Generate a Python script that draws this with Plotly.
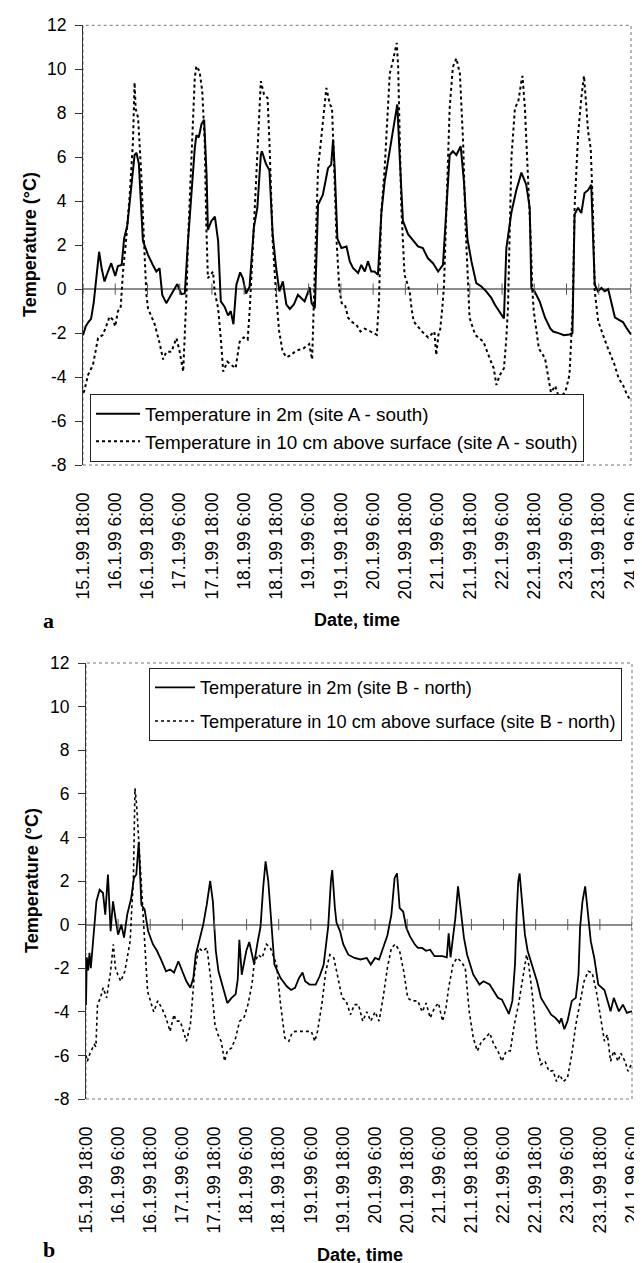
import plotly.graph_objects as go
import pandas as pd

# ---------------- data (hours after 15.1.99 18:00, temperature °C) ----------------
tick_labels = ["15.1.99 18:00", "16.1.99 6:00", "16.1.99 18:00", "17.1.99 6:00",
               "17.1.99 18:00", "18.1.99 6:00", "18.1.99 18:00", "19.1.99 6:00",
               "19.1.99 18:00", "20.1.99 6:00", "20.1.99 18:00", "21.1.99 6:00",
               "21.1.99 18:00", "22.1.99 6:00", "22.1.99 18:00", "23.1.99 6:00",
               "23.1.99 18:00", "24.1.99 6:00"]
y_ticks = [-8, -6, -4, -2, 0, 2, 4, 6, 8, 10, 12]

# site A - south, 2 m
hA_2m = [0, 1, 2, 3, 4, 5, 6, 7, 8, 9, 10.5, 12, 13, 14.4, 15.3, 16.5, 17.4, 18.2, 19.2, 19.9,
         20.8, 22.3, 24.2, 26, 27.3, 28.5, 29.5, 31, 33.5, 35.1, 36.6, 37.9, 39.1, 40.3, 41.6,
         42.2, 43.1, 44.1, 45.1, 46, 46.5, 47.8, 49.1, 50.3, 51.3, 52.7, 54, 55, 56, 57.1, 58.5,
         59.5, 60.7, 62, 63.6, 64.9, 66.2, 66.6, 68.1, 69.4, 70.6, 71.9, 73.1, 74.4, 75.7, 77,
         78.5, 80, 82.5, 84.4, 85.1, 86.3, 87.5, 89.3, 91.2, 92.4, 93.1, 93.7, 94.7, 96.2, 98.1,
         99.3, 100.5, 102.4, 103.6, 104.9, 106.1, 107.3, 108.5, 109.8, 111.1, 112.3, 113.5,
         114.8, 116, 117, 117.9, 119.1, 121, 122.8, 124.7, 126.5, 128.4, 130.3, 132.2, 134,
         135.3, 136.5, 137.7, 139, 140.6, 141.8, 143.1, 144.6, 146.4, 148.3, 150.1, 152, 153.3,
         155, 156.7, 157.6, 159.5, 161.3, 163.2, 165, 166.3, 166.9, 168.1, 170, 172, 174, 175,
         177, 179, 181.1, 182.2, 183, 184.3, 185.5, 186.7, 188, 189.2, 190.5, 191.7, 193, 194.2,
         195.5, 196.7, 198, 199.5, 201, 202.5, 204]
tA_2m = [-2.1, -1.7, -1.5, -1.35, -0.6, 0.7, 1.7, 0.9, 0.35, 0.7, 1.18, 0.6, 1.05, 1.1, 2.3, 2.9,
         4.0, 4.75, 6.1, 6.2, 5.7, 2.2, 1.56, 1.1, 0.8, 0.95, -0.26, -0.64, -0.1, 0.23, -0.23,
         -0.2, 2.2, 4.3, 6.4, 7.0, 6.9, 7.5, 7.7, 5.2, 2.7, 3.1, 3.3, 2.2, -0.56, -0.8, -1.2,
         -1.0, -1.6, 0.2, 0.76, 0.5, -0.2, 0.1, 2.8, 3.7, 6.1, 6.27, 5.7, 5.4, 2.5, 0.96, -0.1,
         0.35, -0.7, -0.9, -0.7, -0.26, -0.56, 0.08, -0.64, -0.87, 3.84, 4.3, 5.5, 5.66, 6.8,
         5.5, 2.3, 1.87, 1.94, 1.26, 0.96, 0.73, 1.1, 0.8, 1.26, 0.8, 0.8, 0.65, 3.5, 4.9, 5.8,
         6.7, 7.6, 8.4, 6.0, 3.1, 2.5, 2.25, 1.94, 1.87, 1.4, 1.18, 0.8, 1.1, 3.7, 6.1, 6.27,
         6.1, 6.5, 4.9, 2.3, 1.26, 0.27, 0.12, -0.1, -0.4, -0.7, -1.0, -1.34, 1.87, 3.5, 4.5,
         5.3, 4.75, 3.7, 0.05, -0.1, -0.56, -1.3, -1.8, -1.93, -2.0, -2.1, -2.06, -2.0, 3.4,
         3.7, 3.46, 4.37, 4.5, 4.75, 0.2, -0.1, 0.05, -0.1, 0.0, -0.56, -1.28, -1.4, -1.5, -1.8,
         -2.06]

# site A - south, 10 cm above surface
hA_10 = [0, 0.4, 1.9, 3.7, 5.6, 7.4, 8.6, 9.9, 11.2, 12, 13, 14, 14.9, 16.1, 17.4, 18.6, 19.2,
         19.6, 20.5, 21.7, 22.7, 23.6, 24.2, 26.7, 28.6, 29.8, 31, 32.9, 34.8, 36, 37.3, 37.9,
         38.6, 39.1, 40.1, 41, 41.6, 42.2, 43.4, 44.4, 45.3, 45.9, 46.5, 47.5, 48.4, 49, 50.3,
         51.4, 52.2, 53.7, 55.2, 56.8, 58.3, 59.8, 61.3, 62.1, 63.6, 64.3, 65.3, 66.2, 67.4,
         68.7, 69.4, 70.6, 71.9, 73, 74.3, 75.8, 77.4, 78.9, 80.4, 82, 84.2, 85.3, 86.2, 87.5,
         88.8, 90, 90.6, 91.9, 92.7, 93.5, 94.4, 95.4, 96.3, 97.5, 98.7, 100.2, 101.8, 103.3,
         104.8, 107.1, 109.4, 110.2, 111, 112.3, 113.5, 114.2, 115.4, 116.4, 116.8, 117.3, 117.9,
         118.5, 119.7, 120.8, 121.6, 122.3, 123.1, 126.2, 128.5, 130.8, 131.5, 132.3, 133, 133.8,
         134.4, 135.3, 136.5, 137.7, 139, 140.3, 141.5, 142.4, 143.4, 143.9, 146, 149.1, 151.4,
         152.9, 153.9, 155.2, 156.7, 157.5, 158.2, 158.8, 159.5, 160.8, 162, 163.2, 163.6, 164.5,
         165.7, 166.7, 167.3, 167.8, 169.7, 172, 174.2, 175.8, 177.3, 179.6, 181.1, 182.3, 183,
         184.3, 185.5, 186.5, 187.4, 188, 189, 189.8, 190.5, 191.8, 194.8, 197.9, 199.4, 201,
         202.5, 204]
tA_10 = [-4.7, -4.66, -3.9, -3.45, -2.23, -2.08, -1.7, -1.25, -1.4, -1.7, -1.0, -0.87, 0.8, 2.3,
         4.3, 6.7, 9.4, 8.2, 7.8, 5.2, 2.2, -0.26, -0.87, -1.6, -2.5, -3.2, -2.85, -2.85, -2.23,
         -2.85, -3.75, -2.2, 0, 2.2, 5.5, 8.2, 9.6, 10.14, 9.9, 9.0, 6.7, 2.9, 0.5, 0.65, 0.8,
         -0.1, -0.87, -2.4, -3.75, -3.3, -3.45, -3.6, -2.4, -2.2, -2.3, -0.87, 2.8, 4.45, 6.7,
         9.46, 8.85, 8.7, 6.7, 2.2, -0.26, -1.9, -2.84, -3.1, -3.0, -2.84, -2.76, -2.7, -2.5,
         -3.2, 0.5, 5.5, 7.0, 8.55, 9.15, 8.4, 8.25, 5.5, 2.2, 0.05, -0.64, -0.7, -1.3, -1.5,
         -1.63, -1.93, -1.8, -1.93, -2.08, -0.5, 3.4, 5.5, 8.55, 9.8, 10.4, 11.1, 11.2, 10.2, 7.5,
         3.7, 0.65, 0.2, -0.1, -0.87, -1.47, -1.93, -2.2, -1.93, -3.0, -2.08, -1.8, -0.8, 0.2, 3.7,
         8.25, 10.1, 10.5, 9.8, 6.7, 2.9, 0.05, -1.3, -2.08, -2.4, -3.15, -3.6, -4.36, -3.9, -3.6,
         -2.4, -0.87, 3.0, 6.0, 8.25, 8.5, 9.46, 9.7, 8.25, 5.2, 2.2, -0.1, -1.0, -2.7, -3.15,
         -4.7, -4.4, -5.0, -4.66, -3.9, -0.87, 3.7, 7.0, 8.7, 9.7, 8.25, 7.2, 6.4, 3.7, -0.1,
         -1.47, -2.5, -3.45, -4.06, -4.36, -4.8, -5.1]

# site B - north, 2 m
hB_2m = [0, 0.3, 0.8, 1.3, 1.8, 2.3, 3.1, 3.9, 5.1, 6.35, 7.2, 8.2, 9.2, 10.1, 11, 12, 13.2, 14.2,
         15.4, 16.9, 17.9, 18.8, 19.7, 20.7, 21.9, 23.2, 25, 26.5, 28, 29.9, 31.4, 32.9, 34.5, 36,
         37.5, 39, 40.1, 41, 42.5, 43.8, 45.1, 46.4, 47.4, 47.9, 48.5, 49.5, 50.5, 51.5, 52.8,
         54.4, 55.9, 56.7, 57.3, 58.2, 59.9, 61, 62, 62.8, 64, 65.2, 66.2, 67.1, 68.1, 69, 69.6,
         70.4, 72.7, 75, 76.6, 78.1, 79.6, 80.9, 81.9, 83.5, 85.8, 87.3, 88.8, 90.5, 91.5, 92, 93,
         93.6, 94.9, 96.1, 98, 100.3, 102.6, 104.9, 106.4, 108, 109.5, 111, 112.6, 114.1, 115.3,
         116.2, 117.2, 118.5, 119.7, 121, 122.8, 124, 125.6, 127, 128.6, 130.2, 131.5, 133.2,
         134.8, 135.5, 136.2, 138, 139, 140.3, 141.2, 142.4, 144.7, 147, 148.5, 150.8, 152.4,
         153.9, 155.4, 157, 158, 159.3, 160.3, 160.9, 161.5, 162, 163, 164, 165, 166.2, 168.5,
         170, 172.3, 173.8, 175.4, 176.9, 177.6, 178.7, 179.9, 181.5, 183, 184, 184.6, 185.5,
         186.5, 187.4, 188.6, 189.9, 191.4, 193.7, 195.2, 196, 197.2, 199.1, 200.6, 202.1, 203.7,
         204]
tB_2m = [-3.7, -1.5, -2.1, -1.3, -2.0, -1.2, 0.15, 1.07, 1.6, 1.45, 0.46, 2.3, -0.3, 1.07, 0.3,
         -0.46, 0, -0.6, 0.46, 1.22, 2.14, 2.3, 3.8, 0.9, 0.7, -0.3, -0.9, -1.2, -1.6, -2.14,
         -2.06, -2.2, -1.68, -2.14, -2.6, -2.9, -2.45, -1.38, -0.6, 0, 0.9, 2.0, 1.07, 0, -1.2,
         -2.14, -2.6, -3.06, -3.6, -3.36, -3.2, -2.5, -0.7, -2.3, -1.2, -0.8, -1.3, -1.8, -0.9,
         -0.1, 1.7, 2.9, 2.0, 0.46, -0.6, -1.83, -2.45, -2.83, -3.0, -2.9, -2.45, -2.2, -2.6,
         -2.75, -2.75, -2.37, -1.83, -0.08, 2.0, 2.5, 0.76, 0.08, -0.3, -0.9, -1.38, -1.53, -1.6,
         -1.53, -1.83, -1.53, -1.6, -1.07, -0.5, 0.46, 2.14, 2.35, 0.76, 0.6, -0.15, -0.53, -0.9,
         -1.07, -1.07, -1.2, -1.15, -1.45, -1.45, -1.45, -1.5, -0.4, -1.5, 0.3, 1.75, 0.46, -0.6,
         -1.38, -2.3, -2.75, -2.6, -2.75, -3.1, -3.36, -3.44, -3.82, -4.1, -3.5, -1.8, 0.46, 2.0,
         2.35, 1.07, -0.46, -1.2, -1.68, -2.6, -3.36, -3.82, -4.13, -4.28, -4.5, -4.3, -4.8,
         -4.43, -3.5, -3.36, -2.3, -0.15, 1.07, 1.75, 0.6, -0.76, -1.53, -2.75, -3.0, -3.67,
         -3.98, -3.36, -3.98, -3.67, -4.05, -3.98, -4.0]

# site B - north, 10 cm above surface
hB_10 = [0, 0.5, 1.5, 3.1, 3.7, 4.3, 5.4, 6.4, 7.7, 9.2, 10.2, 11, 11.9, 13, 14.5, 15.6, 16.5,
         17.1, 17.7, 18.3, 18.9, 19.6, 20.6, 21.4, 22, 23, 25.3, 26.8, 28.3, 29.9, 31.4, 32.9,
         33.7, 35.2, 36.4, 37.5, 39, 40.6, 42.1, 43.6, 45.2, 46.7, 48.2, 49.3, 50.5, 51.8, 52.8,
         54.4, 55.9, 57.4, 59, 60.5, 62, 62.8, 64.3, 65.8, 67.4, 68.9, 71.2, 72.7, 74.3, 75.8,
         77, 78.1, 84.2, 85.5, 86.5, 88.1, 89.6, 91.1, 92.6, 94.2, 95.7, 97.2, 98.8, 100.3, 101.8,
         103.4, 104.9, 106.4, 108, 109.5, 111, 112.6, 114.1, 115.6, 117.2, 118.7, 120.2, 121.7,
         124, 125.6, 127.1, 128.6, 130.2, 131.7, 133.2, 134.5, 135.5, 137.1, 138.6, 140.1, 141.7,
         143.2, 144.7, 146.2, 147.8, 149.3, 150.8, 152.4, 153.9, 155.4, 157, 158.5, 160, 161.6,
         163.1, 164.6, 165.4, 166.9, 168.5, 170, 171.5, 173, 174.5, 175.8, 176.9, 178.4, 179.9,
         181.5, 183, 184.5, 186.1, 187.6, 189.1, 190.7, 192.2, 193.7, 194.8, 196, 197.2, 198.8,
         199.8, 201.4, 202.5, 203.7]
tB_10 = [-6.0, -6.27, -5.9, -5.5, -5.6, -3.67, -3.36, -2.9, -3.36, -2.14, -0.9, -2.0, -2.3, -2.6,
         -2.14, -1.38, -0.76, 0.76, 2.0, 6.25, 5.5, 4.1, 2.0, 0.15, -1.07, -3.06, -4.0, -3.5,
         -3.82, -4.28, -4.9, -4.13, -4.43, -4.43, -4.9, -5.35, -4.6, -2.14, -1.07, -1.22, -1.07,
         -2.6, -4.6, -5.05, -5.35, -6.27, -5.8, -5.66, -5.2, -4.43, -4.28, -3.67, -2.75, -1.83,
         -1.38, -1.53, -0.9, -1.07, -1.83, -3.67, -5.2, -5.35, -4.97, -4.9, -4.9, -5.35, -4.9,
         -3.67, -2.14, -1.38, -1.53, -2.45, -3.36, -3.5, -4.13, -3.67, -3.67, -4.43, -4.0, -4.43,
         -4.0, -4.43, -3.36, -1.99, -1.07, -0.9, -1.22, -2.14, -3.36, -3.5, -3.5, -4.0, -3.6,
         -4.28, -3.82, -3.6, -4.43, -3.82, -2.9, -1.83, -1.53, -1.68, -1.99, -4.0, -5.2, -5.8,
         -5.35, -5.2, -4.97, -5.5, -5.8, -6.27, -5.8, -5.8, -4.6, -3.67, -2.6, -1.38, -1.83,
         -3.36, -5.66, -6.42, -6.27, -6.73, -6.7, -7.2, -6.88, -7.2, -7.03, -5.96, -4.6, -3.67,
         -2.6, -2.14, -2.2, -3.06, -4.28, -5.35, -5.05, -6.27, -5.8, -6.27, -5.9, -6.27, -6.73,
         -6.42]

names_A = ["Temperature in 2m (site A - south)",
           "Temperature in 10 cm above surface (site A - south)"]
names_B = ["Temperature in 2m (site B - north)",
           "Temperature in 10 cm above surface (site B - north)"]

# ---------------- figure ----------------
W, H = 642, 1263
base = pd.Timestamp("1999-01-15 18:00")


def to_time(hours):
    return [base + pd.Timedelta(hours=h) for h in hours]


tick_times = [base + pd.Timedelta(hours=12 * i) for i in range(len(tick_labels))]
x_end = tick_times[-1]

FONT = "Liberation Sans, Arial, Helvetica, sans-serif"
SERIF = "Liberation Serif, Times New Roman, serif"
fig = go.Figure()

# panel a
fig.add_trace(go.Scatter(x=to_time(hA_2m), y=tA_2m, mode="lines", name=names_A[0],
                         line=dict(color="black", width=2), xaxis="x", yaxis="y",
                         legend="legend", legendgroup="a1"))
fig.add_trace(go.Scatter(x=to_time(hA_10), y=tA_10, mode="lines", name=names_A[1],
                         line=dict(color="black", width=2, dash="3px,3px"), xaxis="x", yaxis="y",
                         legend="legend", legendgroup="a2"))
# panel b
fig.add_trace(go.Scatter(x=to_time(hB_2m), y=tB_2m, mode="lines", name=names_B[0],
                         line=dict(color="black", width=1.8), xaxis="x2", yaxis="y2",
                         legend="legend2", legendgroup="b1"))
fig.add_trace(go.Scatter(x=to_time(hB_10), y=tB_10, mode="lines", name=names_B[1],
                         line=dict(color="black", width=1.6, dash="3px,3px"), xaxis="x2", yaxis="y2",
                         legend="legend2", legendgroup="b2"))

# category tick marks crossing the zero line
for xa, ya in (("x", "y"), ("x2", "y2")):
    fig.add_trace(go.Scatter(x=tick_times, y=[0] * len(tick_times), mode="markers",
                             marker=dict(symbol="line-ns", size=8, color="#555",
                                         line=dict(width=1, color="#555")),
                             xaxis=xa, yaxis=ya, showlegend=False, hoverinfo="skip"))

tickfont = dict(family=FONT, size=17.5, color="black")


def xaxis_cfg(domain, anchor):
    return dict(domain=domain, anchor=anchor, range=[base, x_end], tickmode="array",
                tickvals=tick_times, ticktext=tick_labels, tickangle=-90, ticks="",
                showline=False, showgrid=False, zeroline=False, tickfont=tickfont,
                ticklabelstandoff=23, automargin=False)


def yaxis_cfg(domain, anchor):
    return dict(domain=domain, anchor=anchor, range=[-8, 12], tickmode="array",
                tickvals=y_ticks, ticktext=[str(v) for v in y_ticks], ticks="outside",
                ticklen=7, tickcolor="#333", showline=True, linecolor="#333", linewidth=1,
                showgrid=False, zeroline=True, zerolinecolor="#8c8c8c", zerolinewidth=1.5,
                tickfont=tickfont, ticklabelstandoff=5, automargin=False)


fig.update_layout(
    width=W, height=H, margin=dict(l=0, r=0, t=0, b=0),
    paper_bgcolor="white", plot_bgcolor="white",
    font=dict(family=FONT, color="black"),
    xaxis=xaxis_cfg([75 / W, 623 / W], "y"),
    yaxis=yaxis_cfg([1 - 457 / H, 1 - 17.3 / H], "x"),
    xaxis2=xaxis_cfg([78 / W, 624 / W], "y2"),
    yaxis2=yaxis_cfg([1 - 1091 / H, 1 - 655 / H], "x2"),
    legend=dict(x=82 / W, y=1 - 386 / H, xanchor="left", yanchor="top",
                bordercolor="#222", borderwidth=1, bgcolor="white",
                font=dict(family=FONT, size=18.9, color="black"),
                traceorder="grouped", tracegroupgap=0, itemwidth=44),
    legend2=dict(x=141 / W, y=1 - 660 / H, xanchor="left", yanchor="top",
                 bordercolor="#222", borderwidth=1, bgcolor="white",
                 font=dict(family=FONT, size=18.2, color="black"),
                 traceorder="grouped", tracegroupgap=7, itemwidth=40),
    shapes=[
        dict(type="rect", xref="x domain", yref="y domain", x0=0, x1=1, y0=0, y1=1,
             line=dict(color="#777", width=1, dash="dot"), layer="below"),
        dict(type="rect", xref="x2 domain", yref="y2 domain", x0=0, x1=1, y0=0, y1=1,
             line=dict(color="#777", width=1, dash="dot"), layer="below"),
    ],
    annotations=[
        dict(text="<b>Temperature (°C)</b>", textangle=-90, x=22 / W, y=1 - 237 / H,
             xref="paper", yref="paper", xanchor="center", yanchor="middle", showarrow=False,
             font=dict(family=FONT, size=18, color="black")),
        dict(text="<b>Temperature (°C)</b>", textangle=-90, x=24 / W, y=1 - 873 / H,
             xref="paper", yref="paper", xanchor="center", yanchor="middle", showarrow=False,
             font=dict(family=FONT, size=18, color="black")),
        dict(text="<b>Date, time</b>", x=349 / W, y=1 - 612 / H, xref="paper", yref="paper",
             xanchor="center", yanchor="middle", showarrow=False,
             font=dict(family=FONT, size=18, color="black")),
        dict(text="<b>Date, time</b>", x=352 / W, y=1 - 1247 / H, xref="paper", yref="paper",
             xanchor="center", yanchor="middle", showarrow=False,
             font=dict(family=FONT, size=18, color="black")),
        dict(text="<b>a</b>", x=41 / W, y=1 - 612 / H, xref="paper", yref="paper",
             xanchor="center", yanchor="middle", showarrow=False,
             font=dict(family=SERIF, size=22, color="black")),
        dict(text="<b>b</b>", x=41 / W, y=1 - 1256 / H, xref="paper", yref="paper",
             xanchor="center", yanchor="bottom", showarrow=False,
             font=dict(family=SERIF, size=22, color="black")),
    ],
)

fig.write_html("out.html")
